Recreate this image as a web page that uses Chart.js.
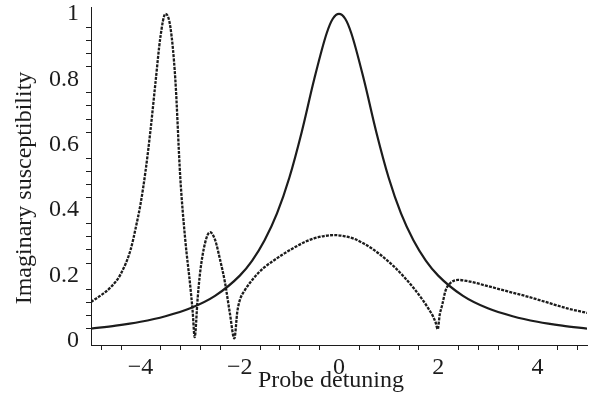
<!DOCTYPE html>
<html lang="en">
<head>
<meta charset="UTF-8">
<title>Imaginary susceptibility vs probe detuning</title>
<script src="https://cdn.jsdelivr.net/npm/chart.js@4.4.0/dist/chart.umd.min.js"></script>
<style>
    html, body { margin: 0; padding: 0; background: #fff; }
    #wrap { width: 593px; height: 401px; }
</style>
</head>
<body>
<div id="wrap"><canvas id="chart"></canvas></div>
<script>
// solid curve (readings)
const solidX = [-5, -4.5, -4, -3.5, -3, -2.5, -2, -1.75, -1.5, -1.25, -1, -0.75, -0.5, -0.25, -0.125,
                0, 0.125, 0.25, 0.5, 0.75, 1, 1.25, 1.5, 1.75, 2, 2.5, 3, 3.5, 4, 4.5, 5];
const solidY = [0.038, 0.047, 0.059, 0.076, 0.1, 0.138, 0.2, 0.246, 0.308, 0.39, 0.5, 0.64, 0.8, 0.94, 0.985,
                1.0, 0.985, 0.94, 0.8, 0.64, 0.5, 0.39, 0.308, 0.246, 0.2, 0.138, 0.1, 0.076, 0.059, 0.047, 0.038];

// dashed curve
const dashX = [-5, -4.8, -4.6, -4.4, -4.2, -4.1, -4.0, -3.9, -3.8, -3.7, -3.6, -3.5, -3.4, -3.3, -3.2, -3.1,
               -3.0, -2.95, -2.91, -2.85, -2.8, -2.7, -2.6, -2.5, -2.4, -2.3, -2.2, -2.11, -2.05, -2.0,
               -1.9, -1.7, -1.5, -1.3, -1.1, -0.9, -0.7, -0.5, -0.3, -0.1, 0.1, 0.3, 0.5, 0.7, 0.9, 1.1,
               1.3, 1.5, 1.7, 1.8, 1.9, 1.95, 1.99, 2.03, 2.08, 2.15, 2.25, 2.4, 2.6, 2.8, 3.0, 3.4, 3.8,
               4.2, 4.6, 5.0];
const dashY = [0.12, 0.14, 0.165, 0.205, 0.28, 0.345, 0.42, 0.52, 0.645, 0.79, 0.93, 1.0, 0.96, 0.80, 0.50, 0.31,
               0.17, 0.09, 0.012, 0.13, 0.21, 0.30, 0.333, 0.31, 0.25, 0.18, 0.085, 0.008, 0.09, 0.125,
               0.155, 0.196, 0.226, 0.248, 0.268, 0.286, 0.302, 0.314, 0.321, 0.324, 0.321, 0.313, 0.298, 0.279, 0.256, 0.229,
               0.198, 0.163, 0.123, 0.1, 0.074, 0.056, 0.036, 0.08, 0.11, 0.155, 0.178, 0.187, 0.183, 0.176, 0.168, 0.152, 0.136,
               0.118, 0.1, 0.086];

const xMajor = [-4, -2, 0, 2, 4];
const yMajor = [0, 0.2, 0.4, 0.6, 0.8, 1];
const xMinorStep = 0.4;
const yMinorStep = 0.04;
const xTitle = 'Probe detuning';
const yTitle = 'Imaginary susceptibility';

const ink = '#1c1c1c';
const serif = '"Liberation Serif", "DejaVu Serif", serif';

function pts(xs, ys) {
    return xs.map((x, i) => ({ x: x, y: ys[i] }));
}

// short ticks between the labelled ones + both axis titles
const extras = {
    id: 'extras',
    afterDraw(chart) {
        const ctx = chart.ctx;
        const xs = chart.scales.x, ys = chart.scales.y;
        const area = chart.chartArea;
        ctx.save();
        ctx.strokeStyle = ink;
        ctx.lineWidth = 1;
        ctx.beginPath();
        for (let v = -4.8; v <= 5.001; v += xMinorStep) {
            const r = Math.round(v * 10) / 10;
            if (xMajor.includes(r)) continue;
            const px = Math.round(xs.getPixelForValue(r)) + 0.5;
            ctx.moveTo(px, area.bottom);
            ctx.lineTo(px, area.bottom + 5);
        }
        for (let v = 0; v <= 1.0001; v += yMinorStep) {
            const r = Math.round(v * 100) / 100;
            if (yMajor.includes(r)) continue;
            const py = Math.round(ys.getPixelForValue(r)) + 0.5;
            ctx.moveTo(area.left, py);
            ctx.lineTo(area.left - 5, py);
        }
        ctx.stroke();

        ctx.fillStyle = ink;
        ctx.font = '24px ' + serif;
        ctx.textAlign = 'center';
        ctx.textBaseline = 'alphabetic';
        // x title sits a little left of the plot centre in the original
        ctx.fillText(xTitle, (area.left + area.right) / 2 - 8, area.bottom + 42);

        ctx.translate(31, (area.top + area.bottom) / 2 + 12);
        ctx.rotate(-Math.PI / 2);
        ctx.fillText(yTitle, 0, 0);
        ctx.restore();
    }
};

new Chart(document.getElementById('chart'), {
    type: 'line',
    data: {
        datasets: [
            {
                label: 'solid',
                data: pts(solidX, solidY),
                borderColor: ink,
                borderWidth: 2.2,
                pointRadius: 0,
                cubicInterpolationMode: 'monotone',
                fill: false
            },
            {
                label: 'dashed',
                data: pts(dashX, dashY),
                borderColor: ink,
                borderWidth: 2.3,
                borderDash: [3, 1.2],
                pointRadius: 0,
                cubicInterpolationMode: 'monotone',
                fill: false
            }
        ]
    },
    options: {
        responsive: true,
        maintainAspectRatio: false,
        animation: false,
        layout: { padding: { top: 7, right: 6, left: 0, bottom: 0 } },
        plugins: { legend: { display: false }, tooltip: { enabled: false } },
        scales: {
            x: {
                type: 'linear',
                min: -5,
                max: 5,
                afterBuildTicks: s => { s.ticks = xMajor.map(v => ({ value: v })); },
                afterFit: s => { s.height = 56; s.paddingLeft = 0; s.paddingRight = 0; },
                grid: { display: false, drawTicks: true, tickLength: 8, tickColor: ink },
                border: { display: true, color: ink, width: 1 },
                ticks: {
                    color: ink,
                    padding: 0,
                    maxRotation: 0,
                    font: { family: serif, size: 24 },
                    callback: v => (v < 0 ? '\u2212' + Math.abs(v) : String(v))
                },
                title: { display: false }
            },
            y: {
                min: -0.012,
                max: 1.021,
                afterBuildTicks: s => { s.ticks = yMajor.map(v => ({ value: v })); },
                afterFit: s => { s.width = 91; s.paddingTop = 0; s.paddingBottom = 0; },
                grid: { display: false, drawTicks: true, tickLength: 8, tickColor: ink },
                border: { display: true, color: ink, width: 1 },
                ticks: {
                    color: ink,
                    padding: 4,
                    font: { family: serif, size: 24 },
                    callback: v => String(v)
                },
                title: { display: false }
            }
        }
    },
    plugins: [extras]
});
</script>
</body>
</html>
